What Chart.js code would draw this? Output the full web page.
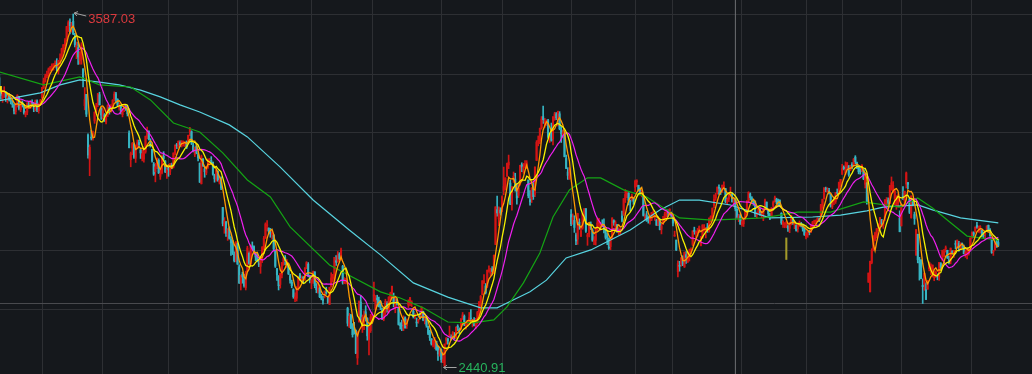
<!DOCTYPE html>
<html>
<head>
<meta charset="utf-8">
<title>上证指数 日K</title>
<script src="https://cdn.jsdelivr.net/npm/chart.js@4.4.1/dist/chart.umd.min.js"></script>
<style>
  html, body { margin: 0; padding: 0; background: #15181c; }
  #wrap { position: relative; width: 1032px; height: 374px; }
</style>
</head>
<body>
<div id="wrap"><canvas id="kline"></canvas></div>
<script>
// daily candles 2017-11-24 .. 2020-05-28, one line per month
const opens = [
  3380, 3348, 3315, 3330, 3332,
  3310, 3322, 3305, 3300, 3290, 3270, 3292, 3318, 3276, 3300, 3290, 3260, 3268, 3296, 3286, 3300, 3296, 3278, 3305, 3273, 3295,
  3314, 3347, 3368, 3386, 3391, 3406, 3414, 3415, 3423, 3428, 3402, 3440, 3448, 3474, 3484, 3504, 3546, 3560, 3543, 3563, 3511, 3470,
  3478, 3436, 3439, 3409, 3289, 3326, 3194, 3115, 3186, 3186, 3240, 3272, 3296, 3325, 3282,
  3253, 3260, 3236, 3260, 3283, 3275, 3292, 3310, 3328, 3310, 3282, 3290, 3260, 3280, 3289, 3278, 3200, 3114, 3152, 3165, 3119, 3160,
  3170, 3146, 3118, 3116, 3139, 3189, 3206, 3174, 3148, 3100, 3075, 3094, 3112, 3060, 3071, 3125, 3110, 3074,
  3086, 3076, 3098, 3090, 3135, 3160, 3156, 3170, 3160, 3170, 3166, 3167, 3174, 3204, 3205, 3160, 3130, 3158, 3130, 3103, 3036, 3117,
  3084, 3071, 3091, 3112, 3112, 3106, 3064, 3052, 3077, 3041, 3048, 2959, 2900, 2912, 2871, 2890, 2855, 2845, 2808, 2786,
  2842, 2766, 2713, 2742, 2727, 2698, 2751, 2810, 2775, 2834, 2832, 2807, 2801, 2777, 2768, 2792, 2831, 2859, 2899, 2891, 2875, 2871,
  2869, 2818, 2760, 2734, 2709, 2740, 2783, 2796, 2773, 2770, 2737, 2716, 2692, 2661, 2664, 2696, 2741, 2724, 2730, 2724, 2764, 2775, 2737,
  2716, 2719, 2750, 2700, 2686, 2697, 2668, 2660, 2680, 2683, 2669, 2644, 2703, 2729, 2728, 2786, 2784, 2807, 2790,
  2768, 2713, 2721, 2631, 2574, 2609, 2571, 2568, 2560, 2470, 2587, 2652, 2567, 2587, 2620, 2598, 2530, 2559,
  2599, 2671, 2630, 2665, 2658, 2653, 2631, 2597, 2620, 2648, 2623, 2665, 2680, 2664, 2632, 2650, 2632, 2578, 2575, 2568, 2601, 2575,
  2642, 2648, 2648, 2622, 2606, 2586, 2589, 2604, 2603, 2622, 2590, 2601, 2573, 2559, 2533, 2512, 2508, 2524, 2508, 2479,
  2497, 2461, 2446, 2528, 2532, 2542, 2539, 2537, 2542, 2536, 2571, 2562, 2564, 2601, 2606, 2577, 2576, 2592, 2600, 2590, 2593, 2575,
  2586, 2620, 2651, 2676, 2713, 2704, 2703, 2753, 2745, 2760, 2744, 2839, 2952, 2922, 2951,
  2953, 3015, 3018, 3061, 3097, 3038, 2970, 3049, 3051, 3016, 2998, 3036, 3098, 3087, 3093, 3096, 3048, 2984, 2989, 3024, 3001,
  3112, 3173, 3176, 3218, 3254, 3237, 3236, 3241, 3180, 3200, 3181, 3254, 3263, 3239, 3263, 3211, 3196, 3198, 3118, 3074, 3052,
  2936, 2907, 2917, 2870, 2856, 2911, 2865, 2892, 2941, 2955, 2865, 2873, 2905, 2885, 2850, 2852, 2891, 2906, 2900, 2902,
  2901, 2886, 2867, 2858, 2832, 2858, 2916, 2897, 2903, 2878, 2887, 2931, 2938, 2984, 2998, 3005, 2978, 2984, 2989,
  3024, 3042, 3031, 3021, 3006, 2998, 2927, 2933, 2926, 2915, 2921, 2937, 2930, 2917, 2902, 2919, 2888, 2909, 2919, 2933, 2945, 2940, 2939,
  2925, 2866, 2853, 2750, 2770, 2779, 2795, 2766, 2806, 2782, 2796, 2815, 2839, 2885, 2876, 2881, 2885, 2835, 2860, 2891, 2880, 2895,
  2882, 2918, 2928, 2965, 2990, 3009, 3022, 3019, 3014, 3026, 3020, 2977, 2986, 3004, 3002, 2975, 2987, 2953, 2926, 2932,
  2905, 2906, 2925, 2948, 2980, 3003, 2990, 2980, 2980, 2935, 2940, 2953, 2940, 2938, 2962, 2976, 2949, 2935,
  2931, 2966, 2978, 2986, 2979, 2982, 2940, 2903, 2904, 2897, 2899, 2891, 2907, 2921, 2902, 2901, 2890, 2907, 2904, 2903, 2890,
  2863, 2871, 2880, 2880, 2899, 2912, 2911, 2919, 2922, 2930, 2965, 2987, 3019, 3013, 3013, 3000, 2962, 2980, 2978, 3006, 3003, 3038,
  3067, 3089, 3071, 3086, 3094, 3081, 3099, 3097, 3122, 3104, 3094, 3080, 3077, 3082, 3034, 3038,
  2716, 2685, 2780, 2823, 2856, 2864, 2898, 2896, 2919, 2900, 2925, 2977, 2983, 2972, 3028, 3008, 2986, 2965, 2970, 2924,
  2899, 2996, 2981, 3035, 3040, 2987, 2926, 2984, 2936, 2804, 2872, 2783, 2788, 2706, 2712, 2692, 2694, 2760, 2756, 2742, 2731, 2739,
  2735, 2734, 2777, 2790, 2803, 2825, 2820, 2789, 2785, 2818, 2803, 2840, 2830, 2842, 2822, 2843, 2833, 2807, 2810, 2808, 2828,
  2865, 2877, 2882, 2901, 2890, 2880, 2885, 2877, 2871, 2885, 2901, 2885, 2856, 2815, 2822, 2847, 2845
];
const highs = [
  3390, 3352, 3340, 3351, 3336,
  3325, 3328, 3315, 3306, 3294, 3294, 3325, 3320, 3306, 3305, 3294, 3272, 3300, 3302, 3306, 3308, 3300, 3308, 3308, 3298, 3310,
  3349, 3379, 3392, 3402, 3412, 3417, 3425, 3426, 3435, 3442, 3437, 3458, 3476, 3488, 3507, 3547, 3565, 3571, 3560, 3587.03, 3524, 3496,
  3495, 3464, 3494, 3409, 3348, 3326, 3198, 3162, 3209, 3207, 3270, 3297, 3329, 3333, 3282,
  3283, 3264, 3259, 3293, 3289, 3293, 3309, 3334, 3333, 3312, 3298, 3291, 3280, 3295, 3290, 3280, 3208, 3139, 3170, 3168, 3162, 3178,
  3178, 3147, 3146, 3146, 3191, 3220, 3208, 3182, 3148, 3105, 3102, 3120, 3117, 3085, 3130, 3140, 3111, 3092,
  3090, 3102, 3103, 3136, 3162, 3167, 3175, 3175, 3176, 3175, 3173, 3175, 3194, 3219, 3208, 3167, 3155, 3163, 3135, 3103, 3129, 3117,
  3090, 3092, 3117, 3118, 3124, 3106, 3067, 3082, 3077, 3059, 3058, 2959, 2926, 2914, 2890, 2896, 2864, 2852, 2815, 2848,
  2844, 2773, 2739, 2749, 2742, 2752, 2833, 2815, 2837, 2847, 2834, 2814, 2812, 2790, 2798, 2832, 2865, 2909, 2916, 2893, 2891, 2883,
  2871, 2819, 2761, 2738, 2745, 2781, 2796, 2803, 2790, 2776, 2742, 2723, 2695, 2682, 2702, 2736, 2745, 2737, 2735, 2764, 2783, 2780, 2738,
  2727, 2752, 2750, 2712, 2718, 2701, 2677, 2671, 2688, 2700, 2669, 2700, 2747, 2742, 2797, 2803, 2816, 2812, 2827,
  2771, 2731, 2729, 2635, 2615, 2612, 2582, 2586, 2562, 2556, 2656, 2673, 2610, 2623, 2640, 2601, 2576, 2612,
  2617, 2717, 2673, 2674, 2668, 2656, 2632, 2630, 2661, 2653, 2669, 2684, 2704, 2681, 2666, 2662, 2632, 2585, 2593, 2607, 2604, 2597,
  2659, 2667, 2656, 2626, 2614, 2600, 2596, 2617, 2637, 2622, 2604, 2601, 2574, 2560, 2533, 2530, 2537, 2525, 2510, 2500,
  2500, 2488, 2516, 2537, 2535, 2574, 2545, 2556, 2553, 2571, 2578, 2568, 2599, 2618, 2610, 2587, 2593, 2618, 2627, 2596, 2601, 2599,
  2622, 2653, 2673, 2721, 2741, 2712, 2756, 2769, 2762, 2767, 2804, 2961, 2996, 2961, 2958,
  2997, 3090, 3055, 3103, 3129, 3048, 3027, 3074, 3070, 3034, 3034, 3096, 3104, 3102, 3111, 3111, 3048, 3014, 3023, 3040, 3091,
  3176, 3191, 3217, 3254, 3288, 3248, 3244, 3245, 3196, 3233, 3254, 3268, 3267, 3272, 3270, 3221, 3210, 3198, 3129, 3088, 3088,
  2952, 2938, 2932, 2876, 2940, 2922, 2893, 2939, 2955, 2955, 2875, 2906, 2912, 2890, 2864, 2894, 2925, 2924, 2911, 2919,
  2922, 2889, 2875, 2860, 2853, 2925, 2919, 2916, 2904, 2893, 2890, 2947, 2988, 3017, 3011, 3007, 2983, 3002, 2990,
  3048, 3049, 3031, 3023, 3016, 2998, 2938, 2946, 2930, 2931, 2943, 2948, 2934, 2921, 2929, 2920, 2904, 2930, 2944, 2947, 2951, 2955, 2944,
  2928, 2882, 2853, 2786, 2784, 2797, 2802, 2814, 2816, 2816, 2824, 2828, 2883, 2895, 2882, 2891, 2899, 2865, 2903, 2903, 2894, 2907,
  2925, 2932, 2957, 3000, 3005, 3026, 3032, 3022, 3032, 3042, 3021, 2990, 3006, 3025, 3007, 2985, 2987, 2955, 2937, 2937,
  2925, 2925, 2948, 2981, 3010, 3006, 2994, 2982, 2980, 2944, 2957, 2956, 2947, 2955, 2986, 2977, 2950, 2940,
  2958, 2980, 2996, 2989, 2986, 2984, 2942, 2916, 2910, 2915, 2902, 2911, 2934, 2924, 2914, 2903, 2908, 2915, 2911, 2905, 2891,
  2877, 2884, 2885, 2900, 2914, 2918, 2919, 2926, 2925, 2969, 2986, 3023, 3025, 3023, 3021, 3003, 2983, 2988, 3008, 3019, 3041, 3050,
  3099, 3094, 3107, 3105, 3095, 3096, 3105, 3118, 3127, 3106, 3095, 3085, 3098, 3082, 3069, 3040,
  2746, 2785, 2825, 2867, 2879, 2890, 2906, 2926, 2920, 2917, 2984, 2991, 2990, 3030, 3058, 3043, 3013, 2997, 3003, 2948,
  2970, 3027, 3012, 3074, 3040, 2987, 2997, 2986, 2944, 2887, 2872, 2797, 2790, 2727, 2746, 2714, 2722, 2782, 2776, 2772, 2750, 2753,
  2743, 2781, 2780, 2820, 2823, 2834, 2820, 2800, 2827, 2818, 2820, 2851, 2853, 2849, 2844, 2843, 2837, 2822, 2822, 2826, 2860,
  2880, 2880, 2896, 2911, 2899, 2900, 2886, 2879, 2880, 2899, 2902, 2890, 2856, 2820, 2847, 2853, 2856
];
const lows = [
  3345, 3310, 3300, 3316, 3303,
  3298, 3305, 3295, 3284, 3263, 3262, 3285, 3276, 3270, 3285, 3262, 3253, 3260, 3282, 3280, 3290, 3270, 3272, 3270, 3265, 3290,
  3314, 3345, 3366, 3380, 3384, 3403, 3402, 3405, 3414, 3402, 3392, 3425, 3444, 3463, 3474, 3499, 3530, 3522, 3528, 3520, 3480, 3442,
  3423, 3424, 3424, 3350, 3276, 3254, 3119, 3062, 3178, 3177, 3232, 3267, 3286, 3292, 3245,
  3247, 3238, 3230, 3254, 3262, 3268, 3286, 3304, 3298, 3286, 3275, 3263, 3253, 3270, 3274, 3256, 3152, 3091, 3130, 3118, 3105, 3153,
  3152, 3118, 3110, 3106, 3135, 3182, 3178, 3155, 3106, 3063, 3042, 3085, 3069, 3050, 3068, 3113, 3072, 3053,
  3060, 3065, 3085, 3087, 3130, 3150, 3154, 3156, 3155, 3158, 3156, 3150, 3170, 3192, 3163, 3139, 3124, 3133, 3110, 3040, 3035, 3091,
  3057, 3065, 3086, 3102, 3103, 3064, 3041, 3044, 3044, 3035, 3017, 2899, 2875, 2865, 2852, 2856, 2803, 2806, 2782, 2782,
  2774, 2712, 2691, 2713, 2700, 2691, 2751, 2774, 2770, 2820, 2808, 2786, 2782, 2767, 2745, 2780, 2821, 2859, 2883, 2873, 2862, 2856,
  2818, 2764, 2722, 2691, 2697, 2730, 2771, 2773, 2764, 2741, 2713, 2698, 2664, 2653, 2655, 2690, 2722, 2715, 2714, 2722, 2760, 2734, 2714,
  2695, 2712, 2698, 2682, 2681, 2666, 2659, 2645, 2665, 2677, 2647, 2644, 2700, 2717, 2721, 2771, 2781, 2789, 2788,
  2710, 2712, 2711, 2574, 2569, 2565, 2538, 2548, 2484, 2449, 2587, 2589, 2553, 2562, 2590, 2528, 2480, 2553,
  2590, 2654, 2626, 2638, 2636, 2627, 2595, 2591, 2611, 2619, 2616, 2658, 2665, 2636, 2617, 2642, 2577, 2564, 2559, 2559, 2567, 2566,
  2634, 2640, 2637, 2600, 2597, 2572, 2583, 2597, 2601, 2591, 2581, 2570, 2546, 2527, 2512, 2506, 2500, 2495, 2462, 2476,
  2456, 2455, 2440.91, 2515, 2515, 2541, 2528, 2532, 2532, 2534, 2559, 2549, 2563, 2595, 2575, 2564, 2572, 2588, 2591, 2571, 2574, 2565,
  2580, 2603, 2636, 2675, 2712, 2678, 2698, 2749, 2737, 2741, 2744, 2838, 2931, 2900, 2934,
  2945, 3000, 3016, 3060, 3085, 2968, 2950, 3040, 3012, 2970, 2991, 3031, 3075, 3070, 3087, 3085, 2990, 2966, 2975, 2985, 2994,
  3111, 3159, 3166, 3213, 3232, 3219, 3225, 3185, 3170, 3174, 3162, 3242, 3244, 3224, 3211, 3170, 3185, 3123, 3085, 3050, 3050,
  2900, 2904, 2878, 2838, 2839, 2888, 2865, 2888, 2920, 2878, 2836, 2863, 2887, 2849, 2838, 2837, 2884, 2893, 2885, 2897,
  2876, 2856, 2838, 2823, 2822, 2856, 2901, 2890, 2878, 2870, 2870, 2912, 2933, 2975, 2991, 2967, 2947, 2980, 2969,
  3010, 3027, 3012, 3001, 2993, 2931, 2919, 2914, 2908, 2905, 2916, 2933, 2917, 2901, 2900, 2886, 2873, 2903, 2917, 2927, 2929, 2934, 2928,
  2899, 2865, 2819, 2733, 2752, 2768, 2770, 2764, 2777, 2780, 2785, 2807, 2835, 2872, 2862, 2866, 2877, 2834, 2859, 2882, 2860, 2878,
  2879, 2912, 2926, 2958, 2982, 3002, 3001, 3001, 3008, 3019, 2974, 2968, 2978, 2999, 2977, 2961, 2948, 2924, 2913, 2904,
  2898, 2897, 2920, 2933, 2974, 2984, 2971, 2966, 2929, 2925, 2936, 2933, 2926, 2916, 2960, 2954, 2929, 2919,
  2930, 2960, 2976, 2971, 2967, 2962, 2904, 2894, 2893, 2893, 2881, 2877, 2902, 2904, 2890, 2882, 2879, 2897, 2896, 2882, 2868,
  2857, 2862, 2870, 2877, 2895, 2905, 2905, 2914, 2913, 2930, 2956, 2987, 3010, 3008, 3002, 2960, 2955, 2968, 2972, 3001, 3001, 3027,
  3066, 3081, 3065, 3084, 3060, 3078, 3084, 3093, 3101, 3085, 3068, 3067, 3074, 3049, 3022, 2970,
  2716, 2685, 2776, 2818, 2850, 2860, 2883, 2889, 2897, 2891, 2917, 2963, 2969, 2972, 3015, 3008, 2968, 2953, 2960, 2880,
  2899, 2984, 2971, 3022, 3020, 2939, 2924, 2964, 2904, 2804, 2779, 2723, 2728, 2647, 2690, 2660, 2693, 2753, 2741, 2733, 2721, 2732,
  2724, 2722, 2756, 2785, 2799, 2814, 2793, 2776, 2776, 2807, 2797, 2825, 2827, 2817, 2822, 2826, 2808, 2797, 2792, 2804, 2827,
  2858, 2862, 2878, 2891, 2878, 2876, 2864, 2859, 2854, 2881, 2881, 2865, 2810, 2803, 2820, 2829, 2832
];
const closes = [
  3353, 3322, 3333, 3337, 3317,
  3318, 3310, 3303, 3293, 3272, 3289, 3322, 3280, 3303, 3292, 3266, 3267, 3297, 3287, 3301, 3297, 3280, 3306, 3275, 3296, 3307,
  3349, 3369, 3386, 3391, 3409, 3413, 3421, 3425, 3428, 3410, 3436, 3444, 3474, 3487, 3501, 3546, 3559, 3548, 3558, 3523, 3488, 3481,
  3447, 3462, 3487, 3371, 3309, 3262, 3129, 3154, 3184, 3199, 3268, 3289, 3329, 3292, 3259,
  3273, 3254, 3256, 3290, 3272, 3288, 3307, 3327, 3310, 3291, 3292, 3269, 3279, 3290, 3281, 3263, 3153, 3134, 3167, 3122, 3161, 3169,
  3163, 3136, 3131, 3138, 3190, 3208, 3180, 3159, 3110, 3067, 3091, 3118, 3071, 3068, 3128, 3118, 3075, 3082,
  3081, 3101, 3092, 3136, 3161, 3159, 3174, 3163, 3174, 3170, 3169, 3155, 3193, 3214, 3168, 3141, 3154, 3135, 3120, 3041, 3124, 3095,
  3075, 3092, 3114, 3115, 3109, 3067, 3052, 3080, 3049, 3044, 3022, 2907, 2916, 2875, 2889, 2859, 2844, 2813, 2786, 2847,
  2775, 2714, 2739, 2733, 2705, 2747, 2827, 2777, 2837, 2831, 2814, 2798, 2787, 2772, 2798, 2829, 2859, 2905, 2903, 2882, 2873, 2876,
  2824, 2768, 2740, 2705, 2744, 2780, 2795, 2786, 2785, 2744, 2723, 2705, 2669, 2668, 2698, 2733, 2731, 2724, 2729, 2762, 2780, 2737, 2725,
  2720, 2750, 2705, 2692, 2702, 2669, 2664, 2657, 2686, 2681, 2651, 2699, 2730, 2729, 2797, 2781, 2806, 2792, 2821,
  2716, 2721, 2725, 2583, 2606, 2568, 2546, 2562, 2486, 2550, 2654, 2594, 2603, 2604, 2598, 2542, 2568, 2603,
  2606, 2676, 2665, 2659, 2641, 2635, 2599, 2630, 2654, 2632, 2668, 2679, 2703, 2646, 2651, 2645, 2579, 2575, 2574, 2601, 2568, 2588,
  2654, 2666, 2649, 2605, 2606, 2584, 2594, 2602, 2634, 2593, 2598, 2576, 2550, 2536, 2516, 2527, 2522, 2498, 2483, 2494,
  2465, 2464, 2515, 2534, 2526, 2544, 2535, 2553, 2535, 2570, 2570, 2560, 2596, 2610, 2579, 2581, 2591, 2601, 2597, 2594, 2575, 2584,
  2618, 2653, 2671, 2721, 2720, 2682, 2755, 2754, 2761, 2751, 2804, 2961, 2941, 2954, 2941,
  2994, 3027, 3055, 3102, 3106, 2970, 3026, 3060, 3026, 2990, 3021, 3096, 3090, 3091, 3101, 3104, 2997, 2977, 3022, 2994, 3090,
  3170, 3176, 3216, 3246, 3244, 3239, 3241, 3189, 3188, 3177, 3253, 3263, 3250, 3271, 3215, 3198, 3201, 3124, 3086, 3063, 3078,
  2906, 2926, 2894, 2850, 2939, 2903, 2883, 2938, 2955, 2882, 2870, 2905, 2891, 2853, 2852, 2892, 2909, 2914, 2905, 2898,
  2890, 2862, 2861, 2827, 2852, 2925, 2909, 2910, 2882, 2887, 2890, 2917, 2987, 3001, 3008, 2982, 2976, 2996, 2979,
  3044, 3043, 3015, 3005, 3012, 2933, 2929, 2915, 2917, 2931, 2942, 2937, 2931, 2901, 2924, 2887, 2899, 2923, 2937, 2945, 2941, 2953, 2933,
  2908, 2868, 2821, 2777, 2768, 2794, 2775, 2814, 2797, 2808, 2815, 2823, 2883, 2880, 2880, 2883, 2897, 2863, 2902, 2893, 2890, 2886,
  2924, 2930, 2957, 2985, 2999, 3024, 3021, 3008, 3031, 3030, 2978, 2985, 2999, 3006, 2977, 2985, 2955, 2929, 2932, 2905,
  2913, 2924, 2947, 2973, 3008, 2991, 2978, 2977, 2938, 2939, 2954, 2941, 2940, 2955, 2981, 2954, 2939, 2929,
  2958, 2975, 2991, 2978, 2978, 2964, 2909, 2914, 2905, 2909, 2891, 2909, 2933, 2911, 2903, 2885, 2906, 2907, 2903, 2889, 2871,
  2876, 2884, 2878, 2899, 2912, 2915, 2917, 2924, 2915, 2968, 2985, 3023, 3017, 3017, 3005, 2963, 2982, 2981, 3007, 3005, 3040, 3050,
  3085, 3084, 3083, 3104, 3066, 3095, 3092, 3116, 3107, 3090, 3075, 3075, 3095, 3052, 3060, 2976,
  2746, 2784, 2818, 2867, 2876, 2890, 2902, 2926, 2906, 2917, 2984, 2984, 2975, 3030, 3039, 3031, 3013, 2988, 2991, 2880,
  2970, 2992, 3011, 3071, 3034, 2943, 2996, 2968, 2923, 2887, 2789, 2779, 2728, 2702, 2745, 2660, 2722, 2781, 2764, 2772, 2747, 2750,
  2734, 2780, 2764, 2820, 2815, 2826, 2796, 2784, 2827, 2812, 2819, 2839, 2853, 2827, 2843, 2838, 2809, 2815, 2810, 2822, 2860,
  2878, 2872, 2895, 2894, 2891, 2898, 2870, 2868, 2875, 2899, 2884, 2868, 2813, 2818, 2846, 2837, 2836
];

// MA60 / MA120: [candle index, value]
const ma60 = [
  [0, 3399], [27, 3357], [49, 3383], [61, 3357], [80, 3350], [92, 3308], [106, 3233], [122, 3204],
  [136, 3136], [151, 3048], [165, 2993], [177, 2896], [201, 2772], [232, 2685], [244, 2665], [258, 2633],
  [273, 2587], [288, 2584], [301, 2594], [309, 2636], [319, 2714], [329, 2811], [337, 2928], [347, 3016],
  [358, 3055], [366, 3055], [380, 3016], [394, 2993], [414, 2925], [434, 2918], [465, 2925], [486, 2944],
  [506, 2944], [526, 2977], [548, 2960], [559, 2990], [568, 2957], [579, 2909], [589, 2866], [608, 2853]
];
const ma120 = [
  [0, 3305], [12, 3318], [25, 3331], [37, 3357], [49, 3373], [61, 3366], [73, 3357], [86, 3340],
  [98, 3318], [110, 3292], [122, 3269], [140, 3227], [151, 3188], [171, 3090], [191, 2983], [213, 2886],
  [232, 2805], [252, 2714], [273, 2668], [293, 2633], [303, 2633], [309, 2649], [323, 2685], [333, 2723],
  [345, 2795], [360, 2821], [384, 2886], [402, 2951], [414, 2983], [426, 2983], [445, 2967], [469, 2925],
  [495, 2928], [512, 2934], [528, 2948], [538, 2960], [559, 2967], [568, 2951], [585, 2925], [608, 2909]
];

// first trading day of the months that get a vertical grid line
const monthTicks = [26, 63, 103, 145, 190, 227, 269, 306, 348, 387, 410, 452, 491, 513, 549, 592];
const priceTicks = [3583.8, 3392.2, 3200.7, 3009.1, 2817.6, 2626.0];

const peak = { index: 45, value: 3587.03 };
const trough = { index: 271, value: 2440.91 };
const cross = { index: 448, value: 2647 };
const flag = { index: 479, low: 2790, high: 2860 };

if ([opens, highs, lows].some(a => a.length !== closes.length)) {
  throw new Error('length mismatch ' + [opens.length, highs.length, lows.length, closes.length]);
}

const UP = '#d31414';
const DOWN = '#36b4c2';
const Y_MIN = 2418.2, Y_MAX = 3632.5;

function average(values, span) {
  return values.map((v, i) => {
    const from = Math.max(0, i - span + 1);
    let sum = 0;
    for (let k = from; k <= i; k++) sum += values[k];
    return { x: i, y: sum / (i - from + 1) };
  });
}

const candleColor = closes.map((c, i) => (c >= opens[i] ? UP : DOWN));

function drawArrow(ctx, fx, fy, tx, ty) {
  const a = Math.atan2(ty - fy, tx - fx);
  ctx.beginPath();
  ctx.moveTo(fx, fy);
  ctx.lineTo(tx, ty);
  ctx.moveTo(tx + 4 * Math.cos(a + Math.PI - 0.6), ty + 4 * Math.sin(a + Math.PI - 0.6));
  ctx.lineTo(tx, ty);
  ctx.lineTo(tx + 4 * Math.cos(a + Math.PI + 0.6), ty + 4 * Math.sin(a + Math.PI + 0.6));
  ctx.stroke();
}

const extremeLabels = {
  id: 'extremeLabels',
  afterDatasetsDraw(chart) {
    const { ctx, scales: { x, y } } = chart;
    ctx.save();
    ctx.font = '13px "Liberation Sans", Arial, sans-serif';
    ctx.textBaseline = 'middle';
    ctx.textAlign = 'left';
    ctx.strokeStyle = '#a4a4a4';
    ctx.lineWidth = 1;

    let px = x.getPixelForValue(peak.index);
    let py = y.getPixelForValue(peak.value);
    drawArrow(ctx, px + 13, py + 2, px + 1, py - 1);
    ctx.fillStyle = '#dc3a3e';
    ctx.fillText(peak.value.toFixed(2), px + 15, py + 5);

    px = x.getPixelForValue(trough.index);
    py = y.getPixelForValue(trough.value);
    drawArrow(ctx, px + 12, py + 0.5, px - 1, py + 0.5);
    ctx.fillStyle = '#27b35d';
    ctx.fillText(trough.value.toFixed(2), px + 14, py + 1);
    ctx.restore();
  }
};

new Chart(document.getElementById('kline'), {
  type: 'bar',
  data: {
    datasets: [
      {
        type: 'line', label: 'MA10', data: average(closes, 10), order: 0,
        borderColor: '#f5f200', borderWidth: 1.3, pointRadius: 0
      },
      {
        type: 'line', label: 'MA5', data: average(closes, 5), order: 1,
        borderColor: '#ff9a00', borderWidth: 1.3, pointRadius: 0
      },
      {
        type: 'line', label: 'MA20', data: average(closes, 20), order: 2,
        borderColor: '#f020f0', borderWidth: 1.2, pointRadius: 0
      },
      {
        type: 'line', label: 'MA60', data: ma60.map(p => ({ x: p[0], y: p[1] })), order: 3,
        borderColor: '#14a414', borderWidth: 1.2, pointRadius: 0
      },
      {
        type: 'line', label: 'MA120', data: ma120.map(p => ({ x: p[0], y: p[1] })), order: 4,
        borderColor: '#58d4e0', borderWidth: 1.2, pointRadius: 0
      },
      {
        label: 'body', data: closes.map((c, i) => ({ x: i, y: [opens[i], c] })), order: 5,
        backgroundColor: candleColor, barThickness: 1.4, minBarLength: 1, grouped: false
      },
      {
        label: 'wick', data: closes.map((c, i) => ({ x: i, y: [lows[i], highs[i]] })), order: 6,
        backgroundColor: candleColor, barThickness: 1, grouped: false
      },
      {
        label: 'flag', data: [{ x: flag.index, y: [flag.low, flag.high] }], order: 6,
        backgroundColor: '#a39a2a', barThickness: 1.4, grouped: false
      },
      {
        type: 'line', label: 'crossV', data: [{ x: cross.index, y: Y_MIN }, { x: cross.index, y: Y_MAX }], order: 9,
        borderColor: '#6e6f72', borderWidth: 1, pointRadius: 0
      },
      {
        type: 'line', label: 'crossH', data: [{ x: 0, y: cross.value }, { x: 640, y: cross.value }], order: 9,
        borderColor: '#4a4b4f', borderWidth: 1, pointRadius: 0
      }
    ]
  },
  options: {
    responsive: true,
    maintainAspectRatio: false,
    animation: false,
    events: [],
    layout: { padding: 0 },
    plugins: { legend: { display: false }, tooltip: { enabled: false } },
    scales: {
      x: {
        type: 'linear', min: 0.438, max: 628.52, offset: false,
        afterBuildTicks: axis => { axis.ticks = monthTicks.map(v => ({ value: v })); },
        ticks: { display: false },
        grid: { color: '#2d2f33', drawTicks: false, offset: false },
        border: { display: false }
      },
      y: {
        type: 'linear', min: Y_MIN, max: Y_MAX,
        afterBuildTicks: axis => { axis.ticks = priceTicks.map(v => ({ value: v })); },
        ticks: { display: false },
        grid: { color: '#2d2f33', drawTicks: false },
        border: { display: false }
      }
    }
  },
  plugins: [extremeLabels]
});
</script>
</body>
</html>
